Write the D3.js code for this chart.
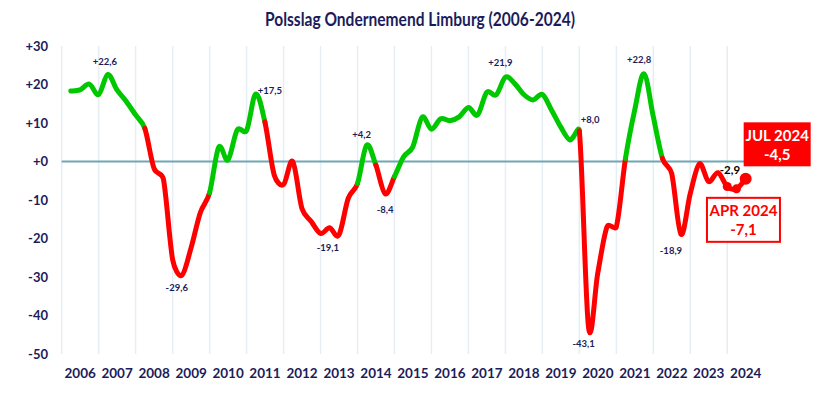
<!DOCTYPE html>
<html>
<head>
<meta charset="utf-8">
<script src="https://cdn.jsdelivr.net/npm/d3@7"></script>
<style>
  html, body { margin: 0; padding: 0; background: #ffffff; }
  svg { display: block; font-family: Lato, "Open Sans", sans-serif; }
</style>
</head>
<body>
<svg id="chart" width="835" height="399"></svg>
<script>
// ---------------- DATA ----------------
const title = "Polsslag Ondernemend Limburg (2006-2024)";

const dates = [
  "2006-04","2006-07","2006-10",
  "2007-01","2007-04","2007-07","2007-10",
  "2008-01","2008-04","2008-07","2008-10",
  "2009-01","2009-04","2009-07","2009-10",
  "2010-01","2010-04","2010-07","2010-10",
  "2011-01","2011-04","2011-07","2011-10",
  "2012-01","2012-04","2012-07","2012-10",
  "2013-01","2013-04","2013-07","2013-10",
  "2014-01","2014-04","2014-07","2014-10",
  "2015-01","2015-04","2015-07","2015-10",
  "2016-01","2016-04","2016-07","2016-10",
  "2017-01","2017-04","2017-07","2017-10",
  "2018-01","2018-04","2018-07","2018-10",
  "2019-01","2019-04","2019-07","2019-10",
  "2020-01","2020-04","2020-07","2020-10",
  "2021-01","2021-04","2021-07","2021-10",
  "2022-01","2022-04","2022-07","2022-10",
  "2023-01","2023-04","2023-07","2023-10",
  "2024-01","2024-04","2024-07"
];

const values = [
  18.3, 18.6, 20.1,
  17.4, 22.6, 18.6, 15.6,
  12.1, 8.6, -1.8, -4.5,
  -25.5, -29.6, -22.5, -13.3,
  -8.1, 3.7, 0.4, 8.2,
  8.0, 17.5, 10.3, -3.5,
  -6.0, 0.0, -12.2, -15.6,
  -18.7, -17.2, -19.1, -9.6,
  -5.7, 4.2, -0.9, -8.4,
  -3.9, 1.2, 3.8, 11.5,
  8.4, 11.1, 10.6, 11.6,
  14.0, 12.1, 18.0, 17.3,
  21.9, 20.3, 17.4, 16.0,
  17.4, 13.4, 9.0, 5.6,
  8.0, -43.1, -29.0, -16.9,
  -16.9, 0.8, 13.4, 22.8,
  11.6, 0.8, -3.1, -18.9,
  -8.3, -0.6, -5.2, -2.9,
  -6.5, -7.1, -4.5
];

// phases: each run starts at the given date and lasts until the next run's start
const phaseStarts = ["2006-04","2008-04","2010-01","2011-07","2014-01","2014-07","2015-01","2020-01","2021-04","2022-04"];
const phaseTypes  = ["gunstig","ongunstig","gunstig","ongunstig","gunstig","ongunstig","gunstig","ongunstig","gunstig","ongunstig"];

const years = ["2006","2007","2008","2009","2010","2011","2012","2013","2014","2015","2016","2017","2018","2019","2020","2021","2022","2023","2024"];
const yTicks = [30, 20, 10, 0, -10, -20, -30, -40, -50];
const yTickLabels = ["+30","+20","+10","+0","-10","-20","-30","-40","-50"];

const peakDates  = ["2007-04","2011-04","2009-04","2013-07","2014-04","2014-10","2018-01","2020-01","2020-04","2021-10","2022-10","2023-10"];
const peakLabels = ["+22,6","+17,5","-29,6","-19,1","+4,2","-8,4","+21,9","+8,0","-43,1","+22,8","-18,9","-2,9"];

const markerDates = ["2024-01","2024-04","2024-07"];

const calloutDates  = ["2024-07","2024-04"];
const calloutLine1  = ["JUL 2024","APR 2024"];
const calloutLine2  = ["-4,5","-7,1"];

// ---------------- STYLE / LAYOUT ----------------
const NAVY = "#1c1c5a";
const GREEN = "#00c800";
const RED = "#ff0000";
const phaseColor = { gunstig: GREEN, ongunstig: RED };

const parse = d3.timeParse("%Y-%m");
const svg = d3.select("#chart");

const x = d3.scaleTime()
  .domain([new Date(2006, 0, 1), new Date(2025, 0, 1)])
  .range([61.7, 764.3]);
const y = d3.scaleLinear().domain([-50, 30]).range([354, 46]);

const pts = dates.map((d, i) => ({ date: parse(d), key: d, v: values[i] }));
pts.forEach(p => { p.x = x(p.date); p.y = y(p.v); });
const idx = k => dates.indexOf(k);

// title
svg.append("text")
  .attr("x", 420).attr("y", 26)
  .attr("text-anchor", "middle")
  .attr("font-weight", 700)
  .attr("font-size", 18)
  .attr("textLength", 310)
  .attr("lengthAdjust", "spacingAndGlyphs")
  .attr("fill", NAVY)
  .text(title);

// vertical grid
svg.append("g").selectAll("line")
  .data(years)
  .join("line")
  .attr("x1", d => x(new Date(+d, 0, 1)))
  .attr("x2", d => x(new Date(+d, 0, 1)))
  .attr("y1", y(30)).attr("y2", y(-50))
  .attr("stroke", "#e7edf4")
  .attr("stroke-width", 1.5);

// y axis labels
const yAxis = d3.axisLeft(y).tickValues(yTicks)
  .tickFormat((d, i) => yTickLabels[i]).tickSize(0).tickPadding(0);
const ya = svg.append("g").attr("transform", "translate(48,0)").call(yAxis);
ya.select(".domain").remove();
ya.selectAll("text")
  .attr("font-family", "Lato, sans-serif")
  .attr("font-weight", 700)
  .attr("font-size", 13)
  .attr("fill", NAVY);

// x axis labels (centered in year bands)
const xa = svg.append("g");
xa.selectAll("text")
  .data(years)
  .join("text")
  .attr("x", d => (x(new Date(+d, 0, 1)) + x(new Date(+d + 1, 0, 1))) / 2)
  .attr("y", 378)
  .attr("text-anchor", "middle")
  .attr("font-weight", 700)
  .attr("font-size", 13.5)
  .attr("fill", NAVY)
  .text(d => d);

// zero line
svg.append("line")
  .attr("x1", x(new Date(2006, 0, 1))).attr("x2", x(new Date(2025, 0, 1)))
  .attr("y1", y(0)).attr("y2", y(0))
  .attr("stroke", "#6da8b4")
  .attr("stroke-width", 2);

// smoothed runs (spreadsheet-style smoothing: cardinal bezier, arms limited to half segment)
const dist = (a, b) => Math.hypot(a.x - b.x, a.y - b.y);
function runPath(a, b) {
  const p = d3.path();
  p.moveTo(pts[a].x, pts[a].y);
  const n = pts.length;
  for (let i = a; i < b; i++) {
    const p0 = pts[Math.max(i - 1, 0)], p1 = pts[i], p2 = pts[i + 1], p3 = pts[Math.min(i + 2, n - 1)];
    const d12 = dist(p1, p2), d02 = dist(p0, p2), d13 = dist(p1, p3);
    const f0 = d02 > 0 ? Math.min(1 / 6, d12 / (2 * d02)) : 0;
    const f1 = d13 > 0 ? Math.min(1 / 6, d12 / (2 * d13)) : 0;
    p.bezierCurveTo(
      p1.x + (p2.x - p0.x) * f0, p1.y + (p2.y - p0.y) * f0,
      p2.x - (p3.x - p1.x) * f1, p2.y - (p3.y - p1.y) * f1,
      p2.x, p2.y);
  }
  return p.toString();
}
const runs = phaseStarts.map((s, i) => ({
  a: idx(s),
  b: i < phaseStarts.length - 1 ? idx(phaseStarts[i + 1]) : pts.length - 1,
  type: phaseTypes[i]
}));
svg.append("g").selectAll("path")
  .data(runs)
  .join("path")
  .attr("d", r => runPath(r.a, r.b))
  .attr("fill", "none")
  .attr("stroke", r => phaseColor[r.type])
  .attr("stroke-width", 5)
  .attr("stroke-linecap", "round")
  .attr("stroke-linejoin", "round");

// end markers
svg.append("g").selectAll("circle")
  .data(markerDates)
  .join("circle")
  .attr("cx", d => pts[idx(d)].x)
  .attr("cy", d => pts[idx(d)].y)
  .attr("r", (d, i) => i === markerDates.length - 1 ? 6 : 4.5)
  .attr("fill", RED);

// peak labels (offsets relative to the data point)
const labelOffsets = {
  "2007-04": [-3, -9, "middle"],
  "2011-04": [2, -0.5, "start"],
  "2009-04": [-5, 16, "middle"],
  "2013-07": [-11, 15.5, "middle"],
  "2014-04": [-5, -7.5, "middle"],
  "2014-10": [0, 19.5, "middle"],
  "2018-01": [-5, -11, "middle"],
  "2020-01": [1.5, -8, "start"],
  "2020-04": [-5, 19.5, "middle"],
  "2021-10": [-5, -10.5, "middle"],
  "2022-10": [-10, 19.5, "middle"],
  "2023-10": [12, 1.5, "middle"]
};
svg.append("g").selectAll("text")
  .data(peakDates)
  .join("text")
  .attr("x", d => pts[idx(d)].x + labelOffsets[d][0])
  .attr("y", d => pts[idx(d)].y + labelOffsets[d][1])
  .attr("text-anchor", d => labelOffsets[d][2])
  .attr("font-weight", 700)
  .attr("font-size", d => d === "2023-10" ? 11.5 : 9.5)
  .attr("fill", d => d === "2023-10" ? "#000000" : NAVY)
  .text((d, i) => peakLabels[i]);

// callout boxes
const callouts = calloutDates.map((d, i) => ({ d, p: pts[idx(d)], l1: calloutLine1[i], l2: calloutLine2[i], filled: i === 0 }));
const cg = svg.append("g").selectAll("g").data(callouts).join("g");
cg.append("rect")
  .attr("x", c => c.filled ? c.p.x - 2 : c.p.x + 7 - 36.5)
  .attr("y", c => c.filled ? c.p.y - 56.5 : c.p.y + 9)
  .attr("width", c => c.filled ? 67 : 73)
  .attr("height", 44)
  .attr("fill", c => c.filled ? RED : "#ffffff")
  .attr("stroke", RED)
  .attr("stroke-width", c => c.filled ? 0 : 2);
cg.append("text")
  .attr("x", c => c.filled ? c.p.x - 2 + 33.5 : c.p.x + 7)
  .attr("y", c => c.filled ? c.p.y - 38 : c.p.y + 27)
  .attr("text-anchor", "middle")
  .attr("font-weight", 700)
  .attr("font-size", 15)
  .attr("fill", c => c.filled ? "#ffffff" : RED)
  .text(c => c.l1);
cg.append("text")
  .attr("x", c => c.filled ? c.p.x - 2 + 33.5 : c.p.x + 7)
  .attr("y", c => c.filled ? c.p.y - 18.5 : c.p.y + 46)
  .attr("text-anchor", "middle")
  .attr("font-weight", 700)
  .attr("font-size", 15)
  .attr("fill", c => c.filled ? "#ffffff" : RED)
  .text(c => c.l2);
</script>
</body>
</html>
